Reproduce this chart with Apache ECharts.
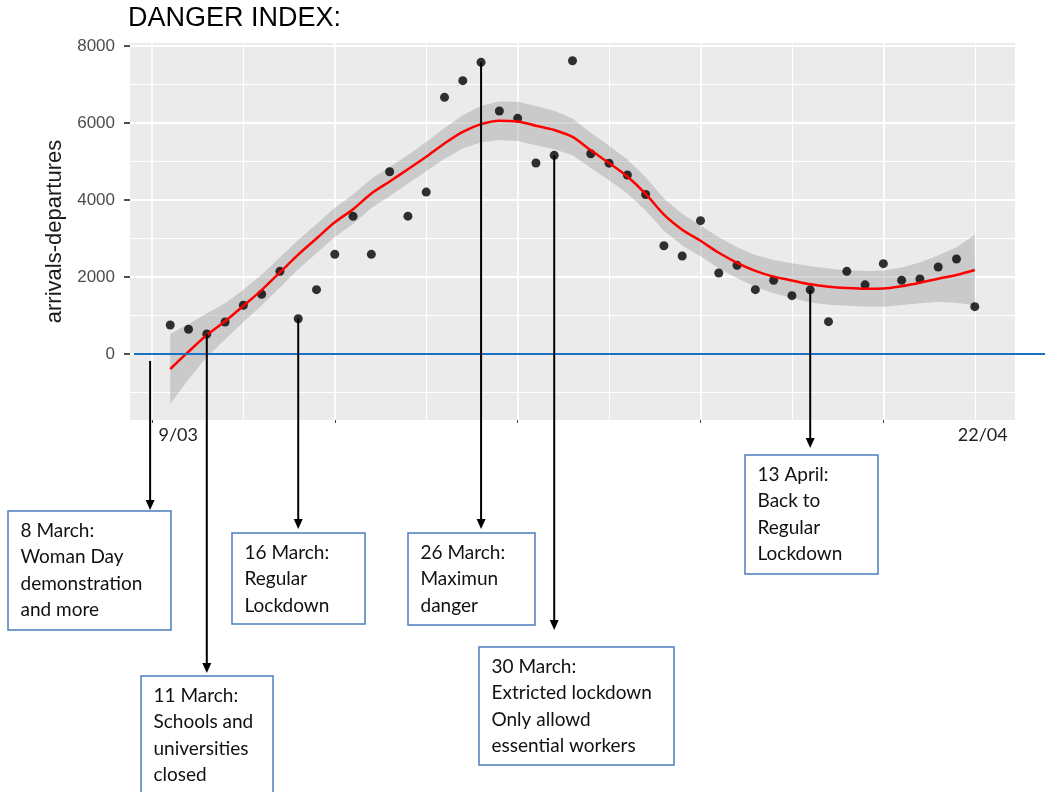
<!DOCTYPE html>
<html>
<head>
<meta charset="utf-8">
<script src="https://cdn.jsdelivr.net/npm/echarts@6/dist/echarts.min.js"></script>
<style>
html,body{margin:0;padding:0;background:#fff;}
#chart{width:1045px;height:792px;}
</style>
</head>
<body>
<div id="chart"></div>
<script>
// Dates: 9 March .. 22 April (x = day index from 9/03)
const dateLabels = ['9/03','10/03','11/03','12/03','13/03','14/03','15/03','16/03','17/03','18/03',
  '19/03','20/03','21/03','22/03','23/03','24/03','25/03','26/03','27/03','28/03',
  '29/03','30/03','31/03','1/04','2/04','3/04','4/04','5/04','6/04','7/04',
  '8/04','9/04','10/04','11/04','12/04','13/04','14/04','15/04','16/04','17/04',
  '18/04','19/04','20/04','21/04','22/04'];

// arrivals - departures (points)
const danger = [753, 642, 519, 831, 1265, 1551, 2148, 917, 1671, 2589,
  3576, 2589, 4735, 3580, 4205, 6667, 7100, 7576, 6312, 6121,
  4961, 5160, 7618, 5200, 4957, 4649, 4143, 2813, 2545, 3463,
  2104, 2303, 1671, 1914, 1515, 1667, 840, 2148, 1797, 2346,
  1914, 1948, 2260, 2468, 1229];

// smoothed curve (red)
const smoothLine = [-390, 60, 494, 850, 1250, 1660, 2120, 2580, 3000, 3420,
  3760, 4170, 4480, 4800, 5125, 5470, 5770, 5970, 6060, 6040,
  5930, 5820, 5640, 5290, 4960, 4610, 4160, 3620, 3230, 2940,
  2630, 2370, 2160, 2010, 1910, 1810, 1750, 1715, 1695, 1700,
  1760, 1850, 1956, 2052, 2182];

// confidence band (grey)
const bandLow = [-1300, -660, -70, 380, 830, 1260, 1730, 2200, 2620, 3040,
  3380, 3790, 4100, 4430, 4745, 5070, 5340, 5500, 5560, 5530,
  5420, 5320, 5160, 4830, 4510, 4170, 3730, 3200, 2820, 2540,
  2230, 1970, 1750, 1580, 1460, 1340, 1280, 1255, 1235, 1230,
  1270, 1320, 1360, 1330, 1260];
const bandHigh = [520, 780, 1050, 1320, 1670, 2060, 2510, 2960, 3380, 3800,
  4140, 4550, 4860, 5170, 5505, 5870, 6200, 6440, 6560, 6550,
  6440, 6320, 6120, 5750, 5410, 5050, 4590, 4040, 3640, 3340,
  3030, 2770, 2570, 2440, 2360, 2280, 2220, 2175, 2155, 2170,
  2250, 2380, 2560, 2770, 3100];

// axis ticks / grid
const yTickValues = [0, 2000, 4000, 6000, 8000];
const yMinorValues = [-1000, 1000, 3000, 5000, 7000];
const xTickDays = [-1, 9, 19, 29, 39];     // 8/03, 18/03, 28/03, 7/04, 17/04
const xMinorDays = [4, 14, 24, 34, 44];
const xEndLabels = ['9/03', '22/04'];
const xEndDays = [0, 44];

// annotations
const eventTexts = [
  '8 March:\nWoman Day\ndemonstration\nand more',
  '11 March:\nSchools and\nuniversities\nclosed',
  '16 March:\nRegular\nLockdown',
  '26 March:\nMaximun\ndanger',
  '30 March:\nExtricted lockdown\nOnly allowd\nessential workers',
  '13 April:\nBack to\nRegular\nLockdown'
];
const eventDays = [-1.1, 2, 7, 17, 21, 35];
const eventFromValues = [-180, danger[2], danger[7], danger[17], danger[21], danger[35]];

const chart = echarts.init(document.getElementById('chart'), null, {renderer: 'canvas'});

const gridLineData = [];
yMinorValues.forEach(v => gridLineData.push({yAxis: v, lineStyle: {color: '#ffffff', width: 1, type: 'solid'}}));
yTickValues.forEach(v => gridLineData.push({yAxis: v, lineStyle: {color: '#ffffff', width: 1.8, type: 'solid'}}));
xMinorDays.forEach(v => gridLineData.push({xAxis: v, lineStyle: {color: '#ffffff', width: 1, type: 'solid'}}));
xTickDays.forEach(v => gridLineData.push({xAxis: v, lineStyle: {color: '#ffffff', width: 1.8, type: 'solid'}}));

const option = {
  animation: false,
  backgroundColor: '#ffffff',
  title: {
    text: 'DANGER INDEX:',
    left: 128, top: 5, padding: 0,
    textStyle: {fontFamily: 'Liberation Sans', fontSize: 27, fontWeight: 'normal', color: '#000'}
  },
  grid: {left: 130, right: 30, top: 43, bottom: 372, show: true, backgroundColor: '#EBEBEB', borderWidth: 0},
  xAxis: {
    type: 'value', min: -2.2, max: 46.2,
    axisLine: {show: true, onZero: false, lineStyle: {color: '#EBEBEB', width: 0, opacity: 0}},
    splitLine: {show: false},
    axisTick: {show: true, customValues: xTickDays, length: 3, lineStyle: {color: '#444', width: 1, opacity: 1}},
    axisLabel: {show: false}
  },
  yAxis: {
    type: 'value', min: -1714, max: 8078,
    axisLine: {show: true, onZero: false, lineStyle: {color: '#EBEBEB', width: 0, opacity: 0}},
    splitLine: {show: false},
    axisTick: {show: true, customValues: yTickValues, length: 6, lineStyle: {color: '#222', width: 1.6, opacity: 1}},
    axisLabel: {customValues: yTickValues, color: '#4D4D4D', fontSize: 17, fontFamily: 'Liberation Sans', margin: 15,
      formatter: function (v) { return String(v); }},
    name: 'arrivals-departures', nameLocation: 'middle', nameGap: 57,
    nameTextStyle: {fontSize: 22, color: '#1a1a1a', fontFamily: 'Liberation Sans'}
  },
  series: [
    {
      type: 'line', z: 1, data: [[0, 0]], showSymbol: false, silent: true,
      lineStyle: {width: 0, opacity: 0},
      markLine: {silent: true, z: 1, symbol: ['none', 'none'], label: {show: false}, animation: false, data: gridLineData}
    },
    {
      type: 'scatter', z: 2, symbolSize: 9,
      itemStyle: {color: '#000000'},
      data: danger.map((v, i) => [i, v])
    },
    {
      type: 'custom', z: 2, silent: true,
      data: danger.map((v, i) => [i, bandLow[i], bandHigh[i]]),
      encode: {x: 0, y: [1, 2]},
      renderItem: function (params, api) {
        if (params.dataIndex !== 0) return null;
        const pts = [];
        for (let i = 0; i < bandHigh.length; i++) pts.push(api.coord([i, bandHigh[i]]));
        for (let i = bandLow.length - 1; i >= 0; i--) pts.push(api.coord([i, bandLow[i]]));
        return {type: 'polygon', shape: {points: pts}, style: {fill: 'rgba(153,153,153,0.4)'}};
      }
    },
    {
      type: 'line', z: 3, symbol: 'none', smooth: 0.3,
      lineStyle: {color: '#FF0000', width: 2.5},
      data: smoothLine.map((v, i) => [i, v])
    }
  ]
};
chart.setOption(option);

function px(x, y) { return chart.convertToPixel({gridIndex: 0}, [x, y]); }

// layout of annotation boxes: [left, top, width, height] and arrow tip y
const boxLayout = [[8, 511, 163, 119], [141, 676, 132, 125], [232, 533, 133, 91], [408, 533, 127, 92], [479, 647, 195, 118], [745, 455, 133, 119]];
const arrowTipY = [510, 673, 529, 529, 630, 448];

const graphics = [];
const zeroY = px(0, 0)[1];
graphics.push({type: 'line', z: 20, shape: {x1: 134, y1: zeroY, x2: 1045, y2: zeroY}, style: {stroke: '#1B72C4', lineWidth: 2}});

xEndLabels.forEach((t, k) => {
  const p = px(xEndDays[k], 0);
  graphics.push({type: 'text', z: 20, style: {text: t, x: p[0] + 8, y: 435, align: 'center', verticalAlign: 'middle', font: '18px Lato', fill: '#222'}});
});

eventTexts.forEach((t, k) => {
  const p = px(eventDays[k], eventFromValues[k]);
  const b = boxLayout[k];
  const tip = arrowTipY[k];
  graphics.push({type: 'line', z: 30, shape: {x1: p[0], y1: p[1], x2: p[0], y2: tip - 8}, style: {stroke: '#000', lineWidth: 2}});
  graphics.push({type: 'polygon', z: 30, shape: {points: [[p[0], tip], [p[0] - 4.5, tip - 10], [p[0] + 4.5, tip - 10]]}, style: {fill: '#000'}});
  graphics.push({type: 'rect', z: 25, shape: {x: b[0], y: b[1], width: b[2], height: b[3]}, style: {fill: '#fff', stroke: '#4A7EBB', lineWidth: 1.5}});
  graphics.push({type: 'text', z: 26, style: {text: t, x: b[0] + 12.5, y: b[1] + 6.5, align: 'left', verticalAlign: 'top', font: '19px Lato', lineHeight: 26.5, fill: '#111'}});
});

chart.setOption({graphic: graphics});
</script>
</body>
</html>
